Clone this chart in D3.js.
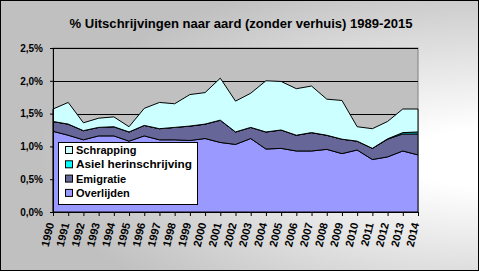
<!DOCTYPE html>
<html>
<head>
<meta charset="utf-8">
<script src="https://cdn.jsdelivr.net/npm/d3@7"></script>
<style>
  html, body { margin: 0; padding: 0; background: #fff; }
  svg { display: block; font-family: "Liberation Sans", Arial, sans-serif; }
</style>
</head>
<body>
<div id="chart"></div>
<script>
"use strict";

// categories
var years = d3.range(1990, 2015).map(String);

// series values, in percent
var overlijden = [1.23, 1.17, 1.10, 1.16, 1.16, 1.08, 1.16, 1.10, 1.10, 1.09, 1.12, 1.06, 1.03,
                  1.12, 0.96, 0.97, 0.93, 0.93, 0.955, 0.89, 0.945, 0.80, 0.84, 0.93, 0.87];
var emigratie = [0.15, 0.17, 0.14, 0.13, 0.14, 0.14, 0.16, 0.17, 0.19, 0.22, 0.22, 0.34, 0.19,
                 0.17, 0.26, 0.28, 0.24, 0.28, 0.215, 0.22, 0.135, 0.17, 0.27, 0.26, 0.32];
var asiel = [0, 0, 0, 0, 0, 0, 0, 0, 0, 0, 0, 0, 0,
             0, 0, 0, 0, 0, 0, 0, 0, 0, 0.005, 0.02, 0.03];
var schrapping = [0.19, 0.33, 0.12, 0.14, 0.15, 0.08, 0.26, 0.40, 0.36, 0.48, 0.48, 0.64, 0.47,
                  0.52, 0.78, 0.74, 0.71, 0.71, 0.55, 0.59, 0.22, 0.30, 0.265, 0.36, 0.35];

// tick labels
var yTicks = [0, 0.5, 1.0, 1.5, 2.0, 2.5];

var seriesNames = ["Overlijden", "Emigratie", "Asiel herinschrijving", "Schrapping"];
var seriesColors = ["#9999ff", "#666699", "#00ffff", "#ccffff"];
var title = "% Uitschrijvingen naar aard (zonder verhuis) 1989-2015";

var width = 479, height = 271;
var plot = { left: 53, right: 418, top: 48, bottom: 212 };

var rows = years.map(function (y, i) {
  return {
    year: y,
    "Overlijden": overlijden[i],
    "Emigratie": emigratie[i],
    "Asiel herinschrijving": asiel[i],
    "Schrapping": schrapping[i]
  };
});

var svg = d3.select("#chart").append("svg")
  .attr("width", width)
  .attr("height", height);

// background gradient of the chart area
var defs = svg.append("defs");
var grad = defs.append("radialGradient")
  .attr("id", "bg")
  .attr("gradientUnits", "userSpaceOnUse")
  .attr("cx", 0).attr("cy", 0).attr("r", 1)
  .attr("gradientTransform", "translate(479,158) scale(440,190)");
grad.append("stop").attr("offset", "0%").attr("stop-color", "#ffffff");
grad.append("stop").attr("offset", "15%").attr("stop-color", "#ffffff");
grad.append("stop").attr("offset", "100%").attr("stop-color", "#c0c0c0");

svg.append("rect")
  .attr("x", 0.5).attr("y", 0.5)
  .attr("width", width - 1).attr("height", height - 1)
  .attr("fill", "url(#bg)")
  .attr("stroke", "#000");

var x = d3.scalePoint().domain(years).range([plot.left, plot.right]);
var y = d3.scaleLinear().domain([0, 2.5]).range([plot.bottom, plot.top]);

// plot area
svg.append("rect")
  .attr("x", plot.left).attr("y", plot.top)
  .attr("width", plot.right - plot.left).attr("height", plot.bottom - plot.top)
  .attr("fill", "#c0c0c0")
  .attr("stroke", "#808080");

// gridlines
svg.append("g")
  .selectAll("line")
  .data(yTicks.slice(1))
  .join("line")
  .attr("x1", plot.left).attr("x2", plot.right)
  .attr("y1", function (d) { return Math.round(y(d)) + 0.5; })
  .attr("y2", function (d) { return Math.round(y(d)) + 0.5; })
  .attr("stroke", "#000");

// stacked areas
var stack = d3.stack().keys(seriesNames);
var layers = stack(rows);

var area = d3.area()
  .x(function (d) { return x(d.data.year); })
  .y0(function (d) { return y(d[0]); })
  .y1(function (d) { return y(d[1]); });

svg.append("g")
  .selectAll("path")
  .data(layers)
  .join("path")
  .attr("d", area)
  .attr("fill", function (d, i) { return seriesColors[i]; })
  .attr("stroke", "#000")
  .attr("stroke-width", 1);

// y axis
var yAxis = d3.axisLeft(y)
  .tickValues(yTicks)
  .tickSize(3)
  .tickFormat(function (d) { return d3.format(".1f")(d).replace(".", ",") + "%"; });

var yg = svg.append("g")
  .attr("transform", "translate(" + plot.left + ",0)")
  .call(yAxis);
yg.select(".domain").attr("stroke", "#000");
yg.selectAll(".tick line").attr("stroke", "#000");
yg.selectAll(".tick text")
  .attr("x", -10)
  .attr("fill", "#000")
  .style("font-size", "10px")
  .style("font-weight", "bold");

// x axis
var xAxis = d3.axisBottom(x).tickSize(4).tickSizeOuter(0);
var xg = svg.append("g")
  .attr("transform", "translate(0," + plot.bottom + ")")
  .call(xAxis);
xg.select(".domain").attr("stroke", "#000");
xg.selectAll(".tick line").attr("stroke", "#000");
xg.selectAll(".tick text")
  .attr("fill", "#000")
  .style("font-size", "11px")
  .style("font-weight", "bold")
  .attr("text-anchor", "end")
  .attr("x", 0).attr("y", 0).attr("dy", 0)
  .attr("transform", "translate(-2,11) rotate(-76)")
  .attr("dominant-baseline", "middle");

// title
svg.append("text")
  .attr("x", 241)
  .attr("y", 28)
  .attr("text-anchor", "middle")
  .attr("textLength", 343)
  .attr("lengthAdjust", "spacingAndGlyphs")
  .style("font-size", "12.5px")
  .style("font-weight", "bold")
  .text(title);

// legend
var legend = svg.append("g");
legend.append("rect")
  .attr("x", 58.5).attr("y", 142.5)
  .attr("width", 139).attr("height", 62)
  .attr("fill", "#fff")
  .attr("stroke", "#000");

var legendItems = legend.selectAll("g.item")
  .data(seriesNames.slice().reverse())
  .join("g")
  .attr("class", "item")
  .attr("transform", function (d, i) { return "translate(65," + (150 + i * 14.3) + ")"; });

legendItems.append("rect")
  .attr("x", 0.5).attr("y", -3.5)
  .attr("width", 7).attr("height", 7)
  .attr("fill", function (d) { return seriesColors[seriesNames.indexOf(d)]; })
  .attr("stroke", "#000");

var legendText = legendItems.append("text")
  .attr("x", 11)
  .attr("y", 0)
  .attr("dy", "0.36em")
  .style("font-size", "11px")
  .style("font-weight", "bold")
  .text(function (d) { return d; });

// squeeze the long label so it fits inside the box
legendText.filter(function (d) { return d === "Asiel herinschrijving"; })
  .attr("textLength", 116)
  .attr("lengthAdjust", "spacingAndGlyphs");
</script>
</body>
</html>
